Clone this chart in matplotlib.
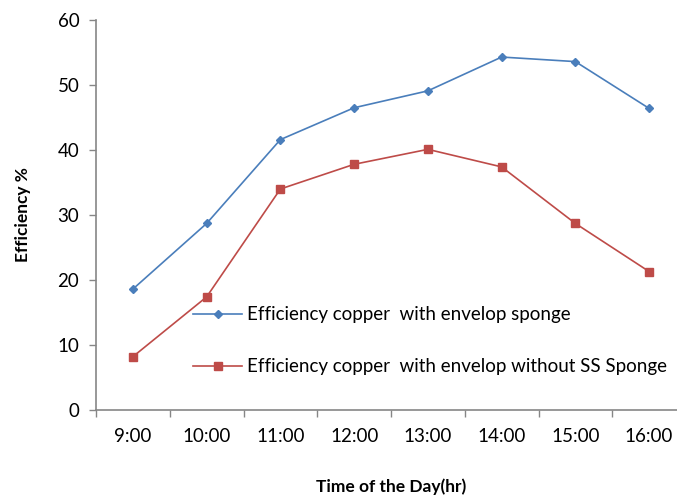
import numpy as np
import matplotlib
matplotlib.use("Agg")
import matplotlib.pyplot as plt
from matplotlib.ticker import FixedLocator, NullFormatter, FixedFormatter

plt.rcParams['font.family'] = ['Lato', 'DejaVu Sans']

# data
times = ["9:00", "10:00", "11:00", "12:00", "13:00", "14:00", "15:00", "16:00"]
eff_sponge = [18.6, 28.7, 41.6, 46.5, 49.1, 54.3, 53.6, 46.4]
eff_no_sponge = [8.2, 17.4, 34.0, 37.8, 40.1, 37.4, 28.7, 21.3]

label_sponge = "Efficiency copper  with envelop sponge"
label_no_sponge = "Efficiency copper  with envelop without SS Sponge"

W, H = 677, 501
fig = plt.figure(figsize=(W / 100, H / 100), dpi=100)
ax = fig.add_axes([96 / W, 91 / H, 590 / W, 390 / H])

x = np.arange(len(times))
ax.plot(x, eff_sponge, color="#4A7EBB", lw=1.2, marker="D", ms=4,
        label=label_sponge)
ax.plot(x, eff_no_sponge, color="#BE4B48", lw=1.2, marker="s", ms=5.5,
        label=label_no_sponge)

ax.set_xlim(-0.5, len(times) - 0.5)
ax.set_ylim(0, 60)
ax.set_yticks(range(0, 61, 10))

# category boundaries get tick marks, labels sit in the middle
ax.xaxis.set_major_locator(FixedLocator(np.arange(-0.5, len(times), 1.0)))
ax.xaxis.set_major_formatter(NullFormatter())
ax.xaxis.set_minor_locator(FixedLocator(x))
ax.xaxis.set_minor_formatter(FixedFormatter(times))
ax.tick_params(axis="x", which="minor", length=0, pad=13, labelsize=13.5)
ax.tick_params(axis="x", which="major", length=5, color="#868686", width=1)
ax.tick_params(axis="y", length=5, color="#868686", width=1, labelsize=13.5,
               pad=7)

for s in ["top", "right"]:
    ax.spines[s].set_visible(False)
for s in ["left", "bottom"]:
    ax.spines[s].set_color("#868686")
    ax.spines[s].set_linewidth(1.2)

ax.set_xlabel("Time of the Day(hr)", fontsize=12.5, fontweight="bold", labelpad=24)
ax.set_ylabel("Efficiency %", fontsize=12.5, fontweight="bold", labelpad=19)

ax.legend(loc="upper left", bbox_to_anchor=(184 / W, 1 - 297 / H),
          bbox_transform=fig.transFigure, frameon=False, fontsize=13.5,
          handlelength=2.6, handletextpad=0.25, labelspacing=1.85,
          borderpad=0)

fig.savefig("out.png", dpi=100)
